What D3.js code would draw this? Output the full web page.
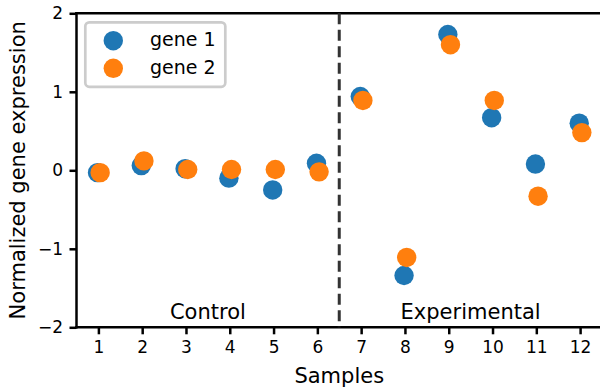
<!DOCTYPE html>
<html>
<head>
<meta charset="utf-8">
<script src="https://cdn.jsdelivr.net/npm/d3@7"></script>
<style>
  body { margin: 0; background: #fff; }
  svg text { font-family: "DejaVu Sans", sans-serif; fill: #000; }
</style>
</head>
<body>
<svg id="chart" width="600" height="387"></svg>
<script>
// sample numbers and a small x offset per series so the dots don't sit exactly on top of each other
var samples = [1, 2, 3, 4, 5, 6, 7, 8, 9, 10, 11, 12];
var gene1X = [0.98, 1.98, 2.98, 3.98, 4.98, 5.98, 6.98, 7.98, 8.98, 9.98, 10.98, 11.98];
var gene2X = [1.04, 2.04, 3.04, 4.04, 5.04, 6.04, 7.04, 8.04, 9.04, 10.04, 11.04, 12.04];
var gene1 = [-0.03, 0.06, 0.02, -0.10, -0.25, 0.09, 0.94, -1.34, 1.73, 0.67, 0.08, 0.60];
var gene2 = [-0.03, 0.12, 0.01, 0.01, 0.01, -0.02, 0.89, -1.11, 1.60, 0.89, -0.33, 0.48];
var yTicks = [-2, -1, 0, 1, 2];
var seriesNames = ["gene 1", "gene 2"];
var groups = [{name: "Control", x: 3.5}, {name: "Experimental", x: 9.5}];
var splitAt = 6.5;

var svg = d3.select("#chart"),
    margin = {top: 13.3, right: -2, bottom: 59.7, left: 76.5},
    width = +svg.attr("width") - margin.left - margin.right,
    height = +svg.attr("height") - margin.top - margin.bottom;

var colors = ["#1f77b4", "#ff7f0e"];

var x = d3.scaleLinear().domain([0.5, 12.5]).range([0, width]),
    y = d3.scaleLinear().domain([-2, 2]).range([height, 0]);

var g = svg.append("g")
    .attr("transform", "translate(" + margin.left + "," + margin.top + ")");

// axes
var xAxis = g.append("g")
    .attr("transform", "translate(0," + height + ")")
    .call(d3.axisBottom(x).tickValues(samples).tickSize(7).tickPadding(6.5).tickFormat(d3.format("d")));

var yAxis = g.append("g")
    .call(d3.axisLeft(y).tickValues(yTicks).tickSize(7).tickPadding(6.5).tickFormat(d3.format("d")));

[xAxis, yAxis].forEach(function(ax) {
  ax.select(".domain").remove();
  ax.selectAll(".tick line").attr("stroke", "#000").attr("stroke-width", 2.5);
  ax.selectAll(".tick text").style("font-size", "17px").attr("fill", "#000");
});

// spines: left, bottom and top
g.append("line").attr("x1", 0).attr("x2", 0).attr("y1", -1.25).attr("y2", height + 1.25)
    .attr("stroke", "#000").attr("stroke-width", 2.5);
g.append("line").attr("x1", -1.25).attr("x2", width).attr("y1", height).attr("y2", height)
    .attr("stroke", "#000").attr("stroke-width", 2.5);
g.append("line").attr("x1", -1.25).attr("x2", width).attr("y1", 0).attr("y2", 0)
    .attr("stroke", "#000").attr("stroke-width", 2.5);

// divider between control and experimental
g.append("line")
    .attr("x1", x(splitAt)).attr("x2", x(splitAt))
    .attr("y1", 0).attr("y2", height)
    .attr("stroke", "#333").attr("stroke-width", 3)
    .attr("stroke-dasharray", "11,5.5");

// group labels
g.selectAll(".group-label").data(groups).enter().append("text")
    .attr("class", "group-label")
    .attr("x", function(d) { return x(d.x); })
    .attr("y", y(-1.9))
    .attr("text-anchor", "middle")
    .style("font-size", "21px")
    .text(function(d) { return d.name; });

// points
var series = [
  {name: seriesNames[0], xs: gene1X, ys: gene1, color: colors[0]},
  {name: seriesNames[1], xs: gene2X, ys: gene2, color: colors[1]}
];

series.forEach(function(s) {
  g.append("g").selectAll("circle")
      .data(s.ys)
      .enter().append("circle")
      .attr("cx", function(d, i) { return x(s.xs[i]); })
      .attr("cy", function(d) { return y(d); })
      .attr("r", 9.7)
      .attr("fill", s.color);
});

// legend
var legend = svg.append("g").attr("transform", "translate(85.3,22.3)");
legend.append("rect")
    .attr("width", 140).attr("height", 64.5)
    .attr("rx", 4).attr("ry", 4)
    .attr("fill", "#fff")
    .attr("stroke", "#ccc").attr("stroke-width", 2.7);

var item = legend.selectAll(".item").data(series).enter().append("g")
    .attr("transform", function(d, i) { return "translate(0," + (18.4 + i * 27.6) + ")"; });
item.append("circle").attr("cx", 28).attr("r", 9.7).attr("fill", function(d) { return d.color; });
item.append("text").attr("x", 64.7).attr("y", 5.5)
    .style("font-size", "19px")
    .text(function(d) { return d.name; });

// axis labels
svg.append("text")
    .attr("x", margin.left + width / 2)
    .attr("y", 383)
    .attr("text-anchor", "middle")
    .style("font-size", "21px")
    .text("Samples");

svg.append("text")
    .attr("transform", "translate(25," + (margin.top + height / 2) + ") rotate(-90)")
    .attr("text-anchor", "middle")
    .style("font-size", "21px")
    .text("Normalized gene expression");
</script>
</body>
</html>
